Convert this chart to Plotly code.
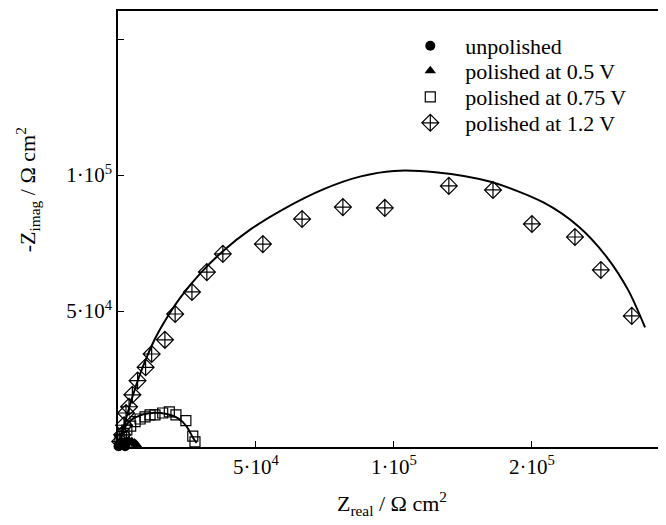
import plotly.graph_objects as go

# ---- data (values in Ohm cm^2) ----
unpol_x = [200, 500, 800, 1200, 1600, 2000, 2300, 2500, 2600]
unpol_y = [300, 800, 1200, 1400, 1500, 1300, 1000, 600, 300]

p05_x = [500, 1000, 2000, 3000, 4000, 5000, 6000, 6500, 7000]
p05_y = [500, 1000, 1600, 2000, 2200, 2000, 1500, 1000, 500]
p05_fit_x = [0, 1000, 2500, 4000, 5500, 6800, 7300]
p05_fit_y = [0, 1200, 2000, 2200, 1800, 900, 0]

p075_x = [700, 1300, 2200, 3200, 4600, 6200, 8000, 9800, 11600, 13400, 16200, 18600, 21000, 24600, 27100, 27900]
p075_y = [2600, 3800, 5000, 6250, 7700, 9300, 10300, 11100, 11800, 11800, 12500, 12900, 11800, 9700, 4000, 1900]
p075_fit_x = [100, 2500, 5600, 9200, 13400, 17600, 21800, 24900, 27300, 28500]
p075_fit_y = [100, 7500, 10500, 12000, 12600, 12100, 10500, 7500, 3200, 1500]

p12_x = [800, 1500, 2200, 2900, 4000, 5200, 7100, 10000, 12200, 17000, 20700, 26800, 32200, 38000, 52500, 66700, 81500, 96700, 119900, 135900, 150000, 165600, 175000, 186200]
p12_y = [2000, 4500, 8000, 12500, 14800, 19200, 24400, 29300, 34200, 39400, 48900, 57000, 64300, 71000, 74600, 83800, 88200, 87900, 96000, 94500, 82000, 77200, 65100, 48200]
p12_fit_x = [0, 1000, 2500, 4500, 7000, 10000, 13500, 18000, 23000, 30000, 38000, 48000, 60000, 75000, 88000, 100000, 115000, 135000, 154000, 167000, 177000, 185000, 191000]
p12_fit_y = [0, 4000, 9000, 16000, 24000, 32000, 40000, 48000, 55500, 64000, 72000, 80000, 87500, 95000, 99500, 101500, 101000, 97500, 90000, 81000, 70000, 57500, 44000]

x_tickvals = [50000, 100000, 150000]
x_ticktext = ["5·10<sup>4</sup>", "1·10<sup>5</sup>", "2·10<sup>5</sup>"]
y_tickvals = [50000, 100000, 150000]
y_ticktext = ["5·10<sup>4</sup>", "1·10<sup>5</sup>", ""]

FONT = "Times New Roman, Liberation Serif, DejaVu Serif, serif"
line_style = dict(color="black", width=2, shape="spline", smoothing=0.8)

fig = go.Figure()
# fit curves
for fx, fy in [(p05_fit_x, p05_fit_y), (p075_fit_x, p075_fit_y), (p12_fit_x, p12_fit_y)]:
    fig.add_trace(go.Scatter(x=fx, y=fy, mode="lines", line=line_style,
                             showlegend=False, hoverinfo="skip", cliponaxis=False))

fig.add_trace(go.Scatter(x=unpol_x, y=unpol_y, mode="markers", name="unpolished", legend="legend",
                         marker=dict(symbol="circle", size=10, color="black"), cliponaxis=False))
fig.add_trace(go.Scatter(x=p05_x, y=p05_y, mode="markers", name="polished at 0.5 V", legend="legend2",
                         marker=dict(symbol="triangle-up", size=10, color="black"), cliponaxis=False))
fig.add_trace(go.Scatter(x=p075_x, y=p075_y, mode="markers", name="polished at 0.75 V", legend="legend3",
                         marker=dict(symbol="square-open", size=10, color="black",
                                     line=dict(width=1.2, color="black")), cliponaxis=False))
fig.add_trace(go.Scatter(x=p12_x, y=p12_y, mode="markers", name="polished at 1.2 V", legend="legend4",
                         marker=dict(symbol="diamond-cross-open", size=13, color="black",
                                     line=dict(width=1.2, color="black")), cliponaxis=False))

def leg(y):
    return dict(x=0.506, y=y, xanchor="left", yanchor="middle",
                font=dict(family=FONT, size=22, color="black"),
                bgcolor="rgba(0,0,0,0)", itemwidth=60)

fig.update_layout(
    width=666, height=525,
    margin=dict(l=110, r=8, t=3, b=86, autoexpand=False),
    paper_bgcolor="white", plot_bgcolor="white",
    font=dict(family=FONT, size=21, color="black"),
    legend=leg(0.9197), legend2=leg(0.8624), legend3=leg(0.8028), legend4=leg(0.7431),
    xaxis=dict(range=[0, 198600], showgrid=False, zeroline=False, automargin=False,
               showline=True, linecolor="black", linewidth=1.5, mirror=True,
               ticks="inside", ticklen=6, tickcolor="black",
               tickvals=x_tickvals, ticktext=x_ticktext,
               tickfont=dict(family=FONT, size=21),
               title=dict(text="Z<sub>real</sub> / Ω cm<sup>2</sup>",
                          font=dict(family=FONT, size=22), standoff=18)),
    yaxis=dict(range=[0, 160300], showgrid=False, zeroline=False, automargin=False,
               showline=True, linecolor="black", linewidth=1.5, mirror=True,
               ticks="inside", ticklen=6, tickcolor="black",
               tickvals=y_tickvals, ticktext=y_ticktext,
               tickfont=dict(family=FONT, size=21)),
    annotations=[dict(text="-Z<sub>imag</sub> / Ω cm<sup>2</sup>", xref="paper", yref="paper",
                      x=-0.166, y=0.589, xanchor="center", yanchor="middle",
                      textangle=-90, showarrow=False,
                      font=dict(family=FONT, size=22, color="black"))],
)

fig.write_html("out.html")
